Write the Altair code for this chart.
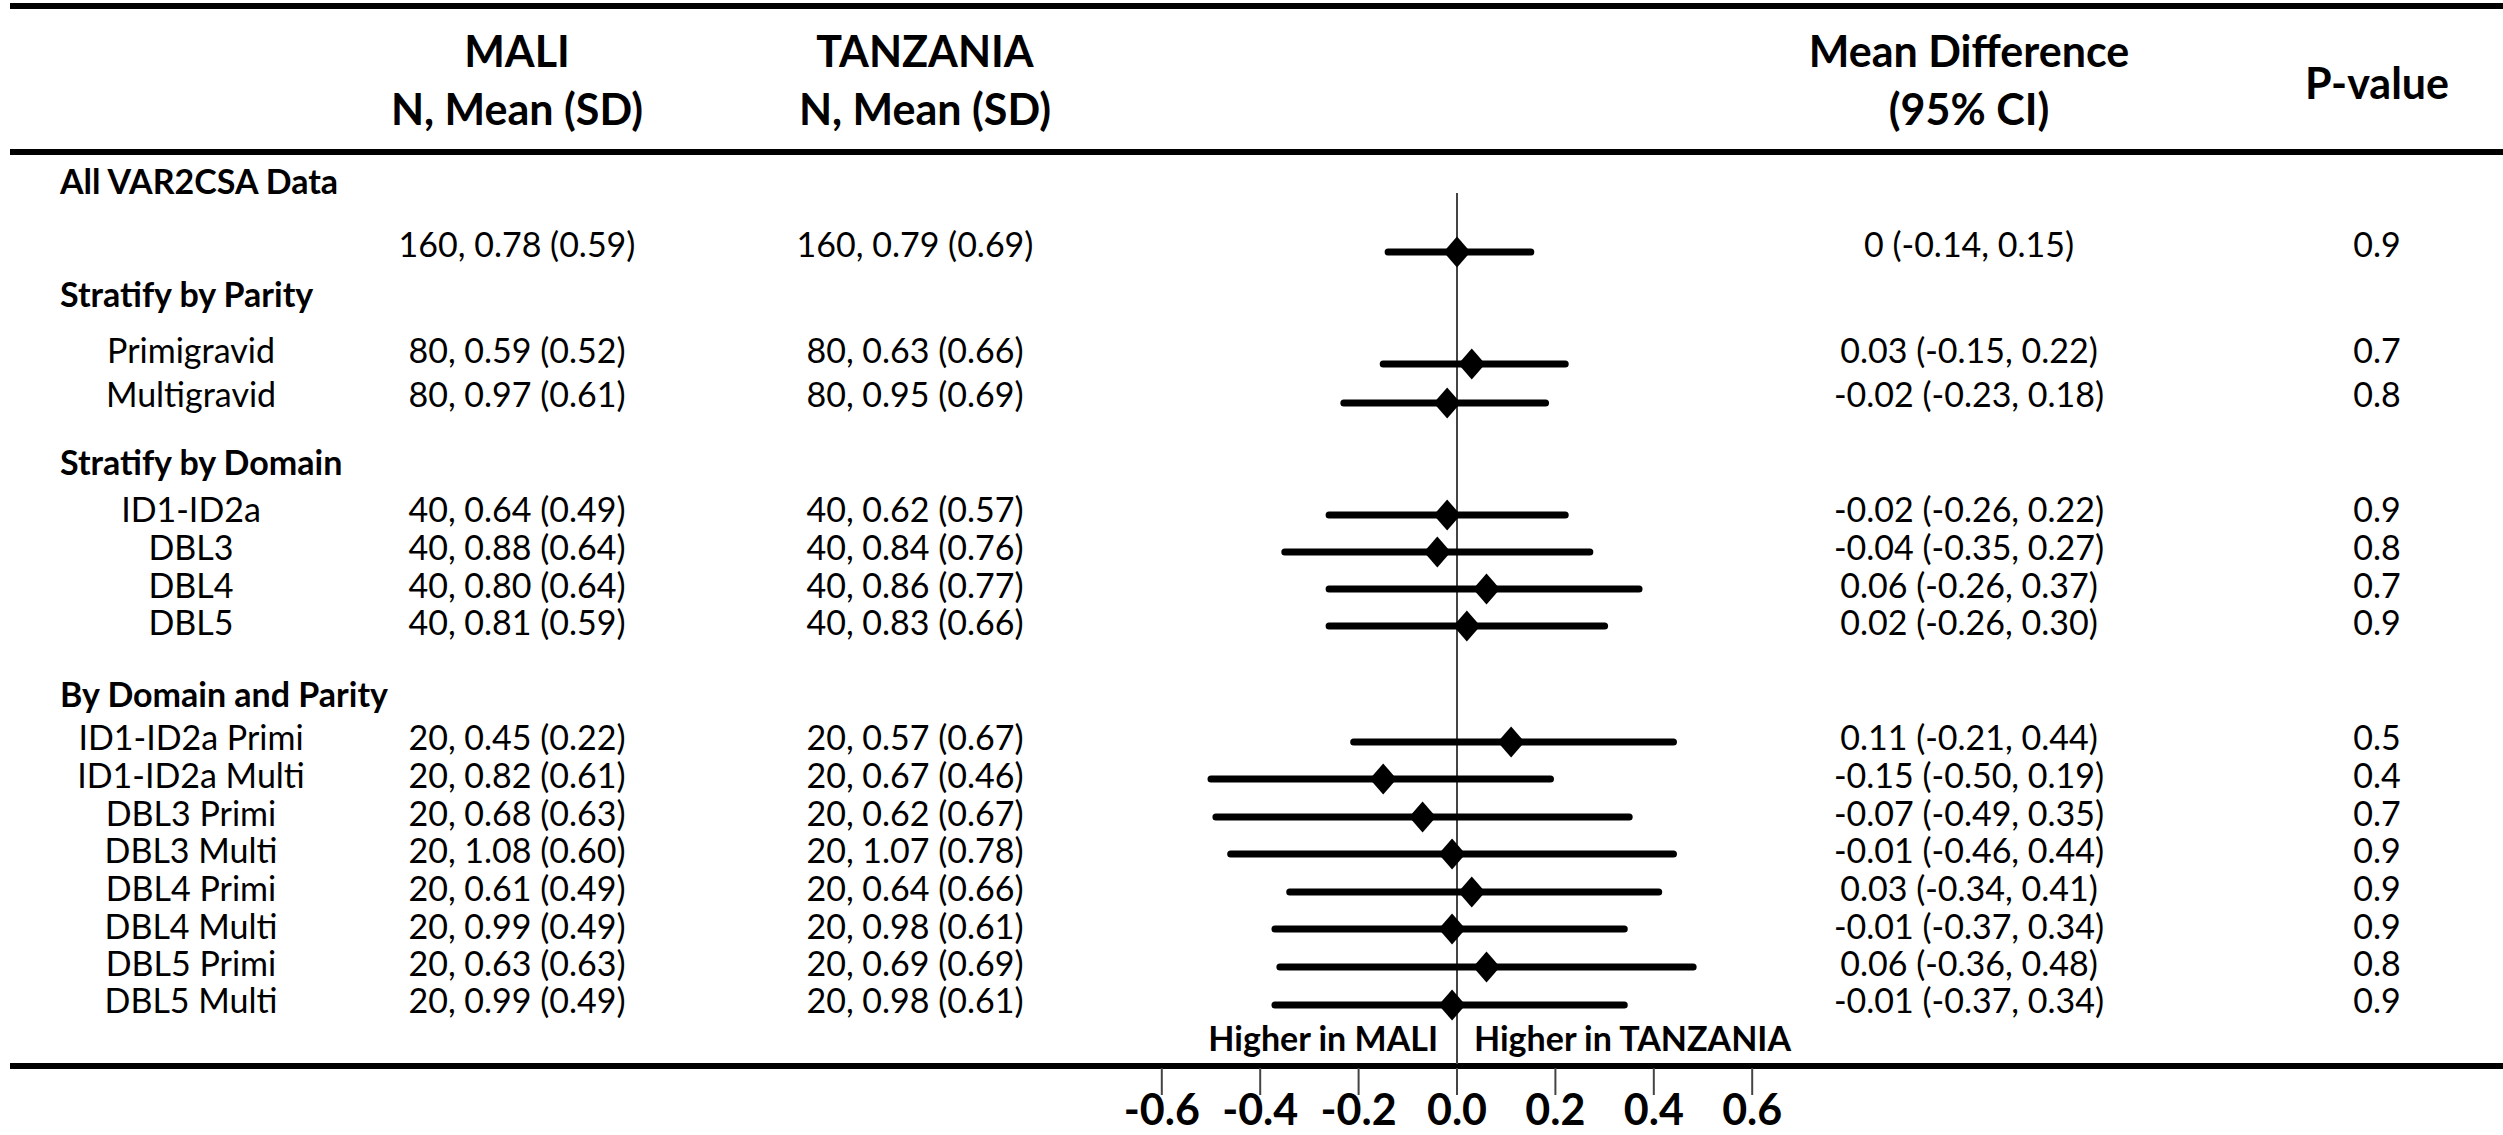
import altair as alt
import pandas as pd

# ---------------- data ----------------
row_labels = ["", "Primigravid", "Multigravid", "ID1-ID2a", "DBL3", "DBL4", "DBL5",
              "ID1-ID2a Primi", "ID1-ID2a Multi", "DBL3 Primi", "DBL3 Multi",
              "DBL4 Primi", "DBL4 Multi", "DBL5 Primi", "DBL5 Multi"]
mali_txt = ["160, 0.78 (0.59)", "80, 0.59 (0.52)", "80, 0.97 (0.61)",
            "40, 0.64 (0.49)", "40, 0.88 (0.64)", "40, 0.80 (0.64)", "40, 0.81 (0.59)",
            "20, 0.45 (0.22)", "20, 0.82 (0.61)", "20, 0.68 (0.63)", "20, 1.08 (0.60)",
            "20, 0.61 (0.49)", "20, 0.99 (0.49)", "20, 0.63 (0.63)", "20, 0.99 (0.49)"]
tanz_txt = ["160, 0.79 (0.69)", "80, 0.63 (0.66)", "80, 0.95 (0.69)",
            "40, 0.62 (0.57)", "40, 0.84 (0.76)", "40, 0.86 (0.77)", "40, 0.83 (0.66)",
            "20, 0.57 (0.67)", "20, 0.67 (0.46)", "20, 0.62 (0.67)", "20, 1.07 (0.78)",
            "20, 0.64 (0.66)", "20, 0.98 (0.61)", "20, 0.69 (0.69)", "20, 0.98 (0.61)"]
mean_diff = [0.00, 0.03, -0.02, -0.02, -0.04, 0.06, 0.02,
             0.11, -0.15, -0.07, -0.01, 0.03, -0.01, 0.06, -0.01]
ci_low = [-0.14, -0.15, -0.23, -0.26, -0.35, -0.26, -0.26,
          -0.21, -0.50, -0.49, -0.46, -0.34, -0.37, -0.36, -0.37]
ci_high = [0.15, 0.22, 0.18, 0.22, 0.27, 0.37, 0.30,
           0.44, 0.19, 0.35, 0.44, 0.41, 0.34, 0.48, 0.34]
md_txt = ["0 (-0.14, 0.15)", "0.03 (-0.15, 0.22)", "-0.02 (-0.23, 0.18)",
          "-0.02 (-0.26, 0.22)", "-0.04 (-0.35, 0.27)", "0.06 (-0.26, 0.37)", "0.02 (-0.26, 0.30)",
          "0.11 (-0.21, 0.44)", "-0.15 (-0.50, 0.19)", "-0.07 (-0.49, 0.35)", "-0.01 (-0.46, 0.44)",
          "0.03 (-0.34, 0.41)", "-0.01 (-0.37, 0.34)", "0.06 (-0.36, 0.48)", "-0.01 (-0.37, 0.34)"]
p_txt = ["0.9", "0.7", "0.8", "0.9", "0.8", "0.7", "0.9",
         "0.5", "0.4", "0.7", "0.9", "0.9", "0.9", "0.8", "0.9"]

sections = ["All VAR2CSA Data", "Stratify by Parity", "Stratify by Domain", "By Domain and Parity"]

tick_values = [-0.6, -0.4, -0.2, 0.0, 0.2, 0.4, 0.6]
tick_labels = ["-0.6", "-0.4", "-0.2", "0.0", "0.2", "0.4", "0.6"]

# ---------------- layout (pixel rows) ----------------
W, H = 2503, 1135
text_row_y = [247, 353, 397, 512, 550, 588, 625, 740, 778, 816, 853, 891, 929, 966, 1003]
ci_row_y = [252, 364, 403, 515, 552, 589, 626, 742, 779, 817, 854, 892, 929, 967, 1005]
section_y = [184, 297, 465, 697]

FONT = "Lato"
ZERO_PX, UNIT_PX = 1457, 492
xscale = alt.Scale(domain=[-ZERO_PX / UNIT_PX, (W - ZERO_PX) / UNIT_PX], nice=False, zero=False)
yscale = alt.Scale(domain=[H, 0], nice=False, zero=False)

rows = pd.DataFrame({
    "label": row_labels, "mali": mali_txt, "tanz": tanz_txt,
    "md": mean_diff, "lo": ci_low, "hi": ci_high, "mdt": md_txt, "p": p_txt,
    "ty": text_row_y, "cy": ci_row_y,
})
secs = pd.DataFrame({"name": sections, "y": section_y})
ticks = pd.DataFrame({"v": tick_values, "t": tick_labels})

base = alt.Chart(rows)
Y_T = alt.Y("ty:Q", scale=yscale, axis=None)
Y_C = alt.Y("cy:Q", scale=yscale, axis=None)


def col_text(field, xpx, size=34):
    return base.mark_text(font=FONT, fontSize=size, align="center", baseline="middle",
                          color="black").encode(x=alt.value(xpx), y=Y_T, text=f"{field}:N")


def hrule(ypx, width=6):
    return alt.Chart(pd.DataFrame({"a": [0]})).mark_rule(color="black", strokeWidth=width).encode(
        x=alt.value(10), x2=alt.value(W), y=alt.value(ypx))


def label(txt, xpx, ypx, size=43, align="center", baseline="middle"):
    return alt.Chart(pd.DataFrame({"t": [txt]})).mark_text(
        font=FONT, fontSize=size, fontWeight="bold", align=align, baseline=baseline,
        color="black").encode(x=alt.value(xpx), y=alt.value(ypx), text="t:N")


layers = [
    hrule(6), hrule(152), hrule(1066),
    label("MALI", 517, 54), label("N, Mean (SD)", 517, 112),
    label("TANZANIA", 925, 54), label("N, Mean (SD)", 925, 112),
    label("Mean Difference", 1969, 54), label("(95% CI)", 1969, 112),
    label("P-value", 2377, 86),
    alt.Chart(secs).mark_text(font=FONT, fontSize=34, fontWeight="bold", align="left",
                              baseline="middle", color="black").encode(
        x=alt.value(60), y=alt.Y("y:Q", scale=yscale, axis=None), text="name:N"),
    col_text("label", 191), col_text("mali", 517), col_text("tanz", 915),
    col_text("mdt", 1969), col_text("p", 2377),
    # zero reference line
    alt.Chart(pd.DataFrame({"z": [0.0]})).mark_rule(color="#444", strokeWidth=2).encode(
        x=alt.X("z:Q", scale=xscale, axis=None), y=alt.value(193), y2=alt.value(1064)),
    # confidence intervals
    base.mark_rule(color="black", strokeWidth=7, strokeCap="round").encode(
        x=alt.X("lo:Q", scale=xscale, axis=None), x2="hi:Q", y=Y_C),
    # point estimates
    base.mark_point(shape="M-0.87,0L0,-1L0.87,0L0,1Z", filled=True, color="black",
                    opacity=1, size=961).encode(
        x=alt.X("md:Q", scale=xscale, axis=None), y=Y_C),
    # axis ticks and labels
    alt.Chart(ticks).mark_rule(color="#444", strokeWidth=2).encode(
        x=alt.X("v:Q", scale=xscale, axis=None), y=alt.value(1068), y2=alt.value(1095)),
    alt.Chart(ticks).mark_text(font=FONT, fontSize=43, fontWeight="bold", align="center",
                               baseline="alphabetic", color="black").encode(
        x=alt.X("v:Q", scale=xscale, axis=None), y=alt.value(1125), text="t:N"),
    # direction labels
    label("Higher in MALI", 1438, 1041, 34, align="right"),
    label("Higher in TANZANIA", 1474, 1041, 34, align="left"),
]

chart = alt.layer(*layers).properties(
    width=W, height=H, autosize=alt.AutoSizeParams(type="none"), padding=0,
    background="white",
).configure_view(stroke=None)

chart.save("out.html", embed_options={"renderer": "svg", "actions": False})
